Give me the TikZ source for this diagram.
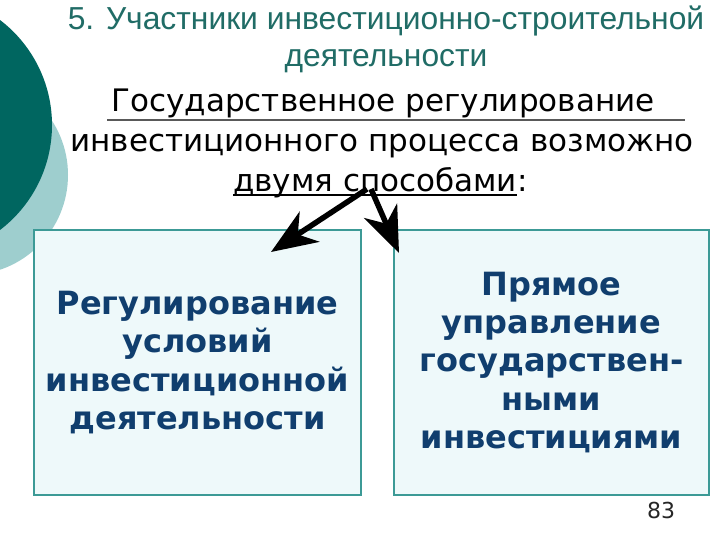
\documentclass[tikz,border=0pt]{standalone}
\usepackage{fontspec}
\setmainfont{DejaVu Sans}
\newfontfamily\arialf{Liberation Sans}
\usetikzlibrary{arrows.meta}
\definecolor{darkteal}{RGB}{0,102,96}
\definecolor{lightteal}{RGB}{158,206,206}
\definecolor{titleteal}{RGB}{32,108,102}
\definecolor{boxfill}{RGB}{238,249,250}
\definecolor{boxline}{RGB}{60,154,150}
\definecolor{boxtext}{RGB}{16,62,110}
\begin{document}
\begin{tikzpicture}[x=1bp,y=-1bp,
  box/.style={draw=boxline, line width=2bp, fill=boxfill, inner sep=0pt,
    text=boxtext, font=\bfseries\fontsize{32bp}{38.3bp}\selectfont, align=center},
  titletext/.style={font=\arialf\fontsize{31.8bp}{36bp}\selectfont, text=titleteal, anchor=base, inner sep=0pt},
  subtext/.style={font=\fontsize{31bp}{38bp}\selectfont, text=black, anchor=base, inner sep=0pt},
  arr/.style={line width=5.5bp, -{Stealth[length=46bp,width=36bp,inset=14bp]}}]
\clip (0,0) rectangle (720,540);
\fill[white] (0,0) rectangle (720,540);
\fill[lightteal] (-32,175) circle[radius=100];
\fill[darkteal] (-80,125) circle[radius=132];
% title
\node[titletext] (t1) at (386,30) {5. Участники инвестиционно-строительной};
\node[titletext] (t2) at (386,67) {деятельности};
% subtitle
\node[subtext] (s1) at (383,112) {Государственное регулирование};
\node[subtext] (s2) at (382,152) {инвестиционного процесса возможно};
\node[subtext, anchor=base west] (s3) at (233,192) {двумя способами};
\node[subtext, anchor=base west] (s3c) at (s3.base east) {:};
\draw[black!65, line width=1.5bp] ([xshift=-4bp,yshift=-8bp]s1.base west) -- ([xshift=30bp,yshift=-8bp]s1.base east);
\draw[black, line width=2bp] ([yshift=-3bp]s3.base west) -- ([yshift=-3bp]s3.base east);
% boxes
\node[box, minimum width=326bp, minimum height=265bp] (L) at (197.5,362.5)
  {Регулирование\\условий\\инвестиционной\\деятельности};
\node[box, minimum width=315bp, minimum height=265bp] (R) at (551.5,362.5)
  {Прямое\\управление\\государствен-\\ными\\инвестициями};
% arrows
\coordinate (apex) at (367,189);
\coordinate (apexr) at (371,189);
\coordinate (lt) at (271,252);
\coordinate (rt) at (399,253);
\draw[arr] (apex) -- (lt);
\draw[arr] (apexr) -- (rt);
% page number
\node[font=\fontsize{22bp}{26bp}\selectfont, text=black!85, anchor=base, inner sep=0pt] (pg) at (661,518) {83};
\end{tikzpicture}
\end{document}
